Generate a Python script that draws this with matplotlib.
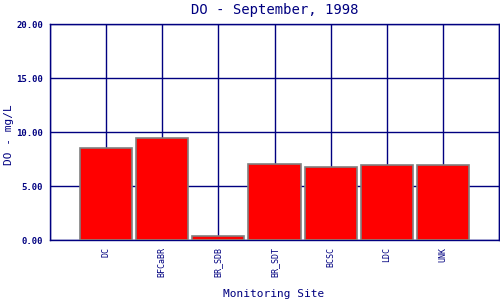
import matplotlib
matplotlib.use("Agg")
import matplotlib.pyplot as plt

sites = ["DC", "BFCaBR", "BR_SDB", "BR_SDT", "BCSC", "LDC", "UNK"]
do_values = [8.49, 9.44, 0.34, 7.01, 6.76, 6.91, 6.91]
y_ticks = [0, 5, 10, 15, 20]

navy = "#000080"
plt.rcParams["font.family"] = ["DejaVu Sans Mono"]

fig = plt.figure(figsize=(5, 3), dpi=100)
ax = fig.add_axes([0.1, 0.2, 0.898, 0.72])
x = list(range(1, len(sites) + 1))
ax.bar(x, do_values, width=0.93, color="#ff0000", edgecolor="#808080", linewidth=1.2, zorder=3)
ax.set_xlim(0, 8)
ax.set_ylim(0, 20)
ax.set_xticks(range(0, 9))
ax.set_xticklabels([""] + sites + [""], rotation=90, fontsize=6, color=navy)
ax.set_yticks(y_ticks)
ax.set_yticklabels([f"{v:.2f}" for v in y_ticks], fontsize=6.5, color=navy, fontweight="bold")
ax.tick_params(length=0, pad=5)
ax.grid(True, color=navy, linewidth=1, zorder=0)
for s in ax.spines.values():
    s.set_color(navy)
    s.set_linewidth(1)
ax.set_title("DO - September, 1998", fontsize=10, color=navy, pad=7)
fig.text(0.018, 0.55, "DO - mg/L", fontsize=8, color=navy, rotation=90, ha="center", va="center")
fig.text(0.548, 0.02, "Monitoring Site", fontsize=8, color=navy, ha="center", va="center")
fig.savefig("out.png", dpi=100)
